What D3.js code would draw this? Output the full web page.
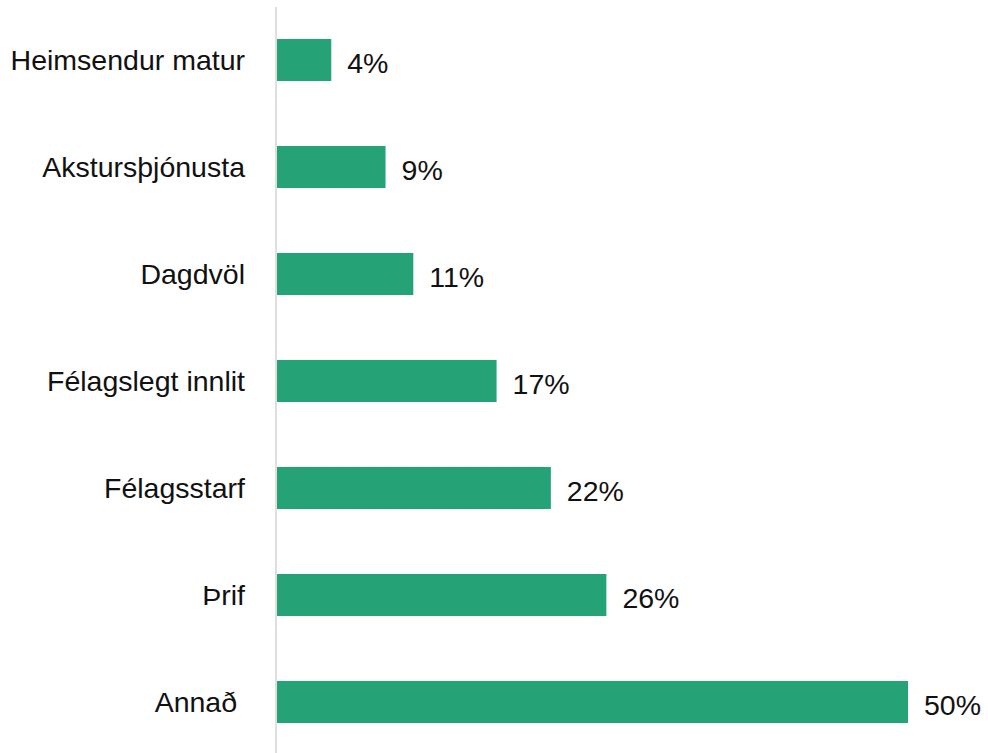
<!DOCTYPE html>
<html>
<head>
<meta charset="utf-8">
<script src="https://cdn.jsdelivr.net/npm/d3@7"></script>
<style>
  html, body { margin: 0; padding: 0; background: #fff; }
  svg text { font-family: "Liberation Sans", Arial, sans-serif; fill: #111; white-space: pre; }
</style>
</head>
<body>
<svg id="chart" width="988" height="753"></svg>
<script>
const categories = ["Heimsendur matur", "Akstursþjónusta", "Dagdvöl", "Félagslegt innlit", "Félagsstarf", "Þrif", "Annað "];
const values = [4.3, 8.6, 10.8, 17.4, 21.7, 26.1, 50];

const svg = d3.select("#chart");
const x0 = 277;
const x = d3.scaleLinear().domain([0, 50]).range([x0, 908]);
const y = d3.scaleBand().domain(categories).range([6.5, 755.5]).paddingInner(0.607).paddingOuter(0.3035);

svg.append("g").selectAll("rect")
  .data(values)
  .join("rect")
  .attr("x", x(0))
  .attr("y", (d, i) => y(categories[i]))
  .attr("width", d => x(d) - x(0))
  .attr("height", y.bandwidth())
  .attr("fill", "#26a277");

svg.append("line")
  .attr("x1", 276).attr("x2", 276)
  .attr("y1", 7).attr("y2", 753)
  .attr("stroke", "#d4d4d4").attr("stroke-width", 1.5);

const fmt = d3.format(".0f");
svg.append("g").selectAll("text.val")
  .data(values)
  .join("text")
  .attr("class", "val")
  .attr("x", d => x(d) + 16)
  .attr("y", (d, i) => y(categories[i]) + y.bandwidth() / 2)
  .attr("dy", "0.44em")
  .attr("font-size", 28.5)
  .text(d => fmt(d) + "%");

svg.append("g").selectAll("text.cat")
  .data(categories)
  .join("text")
  .attr("class", "cat")
  .attr("x", 245)
  .attr("y", d => y(d) + y.bandwidth() / 2)
  .attr("dy", "0.36em")
  .attr("text-anchor", "end")
  .attr("font-size", 28.5)
  .text(d => d);
</script>
</body>
</html>
